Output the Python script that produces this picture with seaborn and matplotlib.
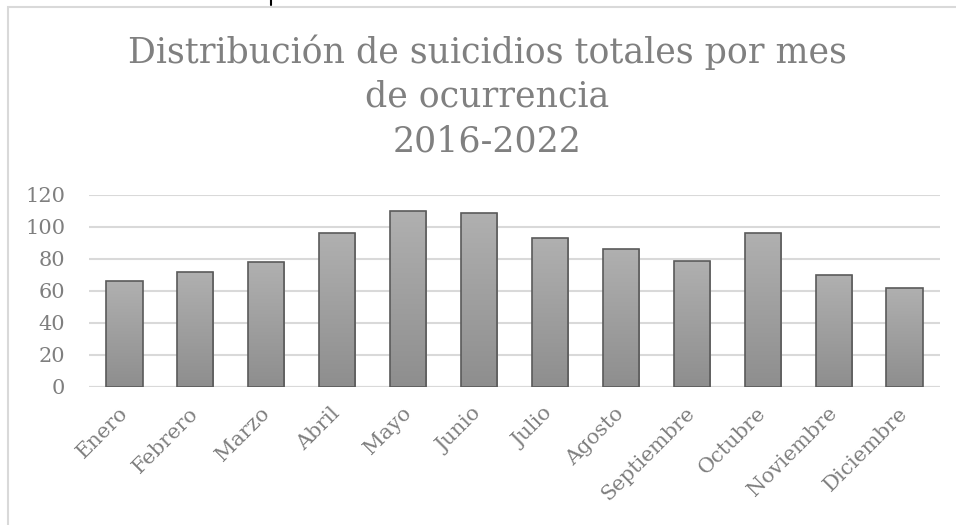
import numpy as np
import pandas as pd
import matplotlib
matplotlib.use("Agg")
import matplotlib.pyplot as plt
from matplotlib.patches import Rectangle
from matplotlib.lines import Line2D
import seaborn as sns

meses = ["Enero", "Febrero", "Marzo", "Abril", "Mayo", "Junio", "Julio",
         "Agosto", "Septiembre", "Octubre", "Noviembre", "Diciembre"]
suicidios = [66, 72, 78, 96, 110, 109, 93, 86, 79, 96, 70, 62]
y_ticks = [0, 20, 40, 60, 80, 100, 120]
titulo = "Distribución de suicidios totales por mes\nde ocurrencia\n2016-2022"

df = pd.DataFrame({"mes": meses, "valor": suicidios})

sns.set_theme(style="white")
plt.rcParams["font.family"] = ["DejaVu Serif", "DejaVu Sans"]

fig = plt.figure(figsize=(9.56, 5.25), dpi=100)
ax = fig.add_axes([89/956, 1-387/525, (940-89)/956, (387-195)/525])

sns.barplot(data=df, x="mes", y="valor", ax=ax, color="#9e9e9e",
            width=0.51, edgecolor="#5a5a5a", linewidth=1.2, zorder=3)

# gradient fill clipped to each bar
grad = np.linspace(0, 1, 256).reshape(-1, 1)
cmap = matplotlib.colors.LinearSegmentedColormap.from_list("g", ["#8e8e8e", "#b0b0b0"])
for p in ax.patches:
    x0, y0 = p.get_x(), p.get_y()
    w, h = p.get_width(), p.get_height()
    im = ax.imshow(grad, extent=[x0, x0 + w, y0, y0 + h], origin="lower",
                   cmap=cmap, aspect="auto", zorder=3.5, interpolation="bicubic")
    im.set_clip_path(p)
    p.set_facecolor("none")
    p.set_zorder(4)

ax.set_xlim(-0.5, len(meses) - 0.5)
ax.set_ylim(0, 120)
ax.set_yticks(y_ticks)
ax.set_yticklabels([str(t) for t in y_ticks])
ax.yaxis.grid(True, color="#d9d9d9", linewidth=1.5, zorder=0)
ax.xaxis.grid(False)
for s in ax.spines.values():
    s.set_visible(False)
ax.axhline(0, color="#d9d9d9", linewidth=1.5, zorder=1)
ax.set_xlabel("")
ax.set_ylabel("")
ax.tick_params(axis="y", length=0, pad=17, labelsize=15, labelcolor="#7f7f7f")
ax.tick_params(axis="x", length=0, pad=17, labelsize=15, labelcolor="#7f7f7f")
for lbl in ax.get_xticklabels():
    lbl.set_rotation(45)
    lbl.set_ha("right")
    lbl.set_va("center")
    lbl.set_rotation_mode("anchor")

fig.text(0.51, 1 - 34/525, titulo, ha="center", va="top", fontsize=25,
         color="#808080", linespacing=1.38)

# chart frame
fig.add_artist(Rectangle((8/956, -0.1), 1.1, 1 - 7/525 + 0.1, transform=fig.transFigure,
                         fill=False, edgecolor="#d9d9d9", linewidth=1.5))
fig.add_artist(Line2D([271/956, 271/956], [1, 1 - 5/525], transform=fig.transFigure,
                      color="black", linewidth=1.5))

fig.savefig("out.png", dpi=100)
